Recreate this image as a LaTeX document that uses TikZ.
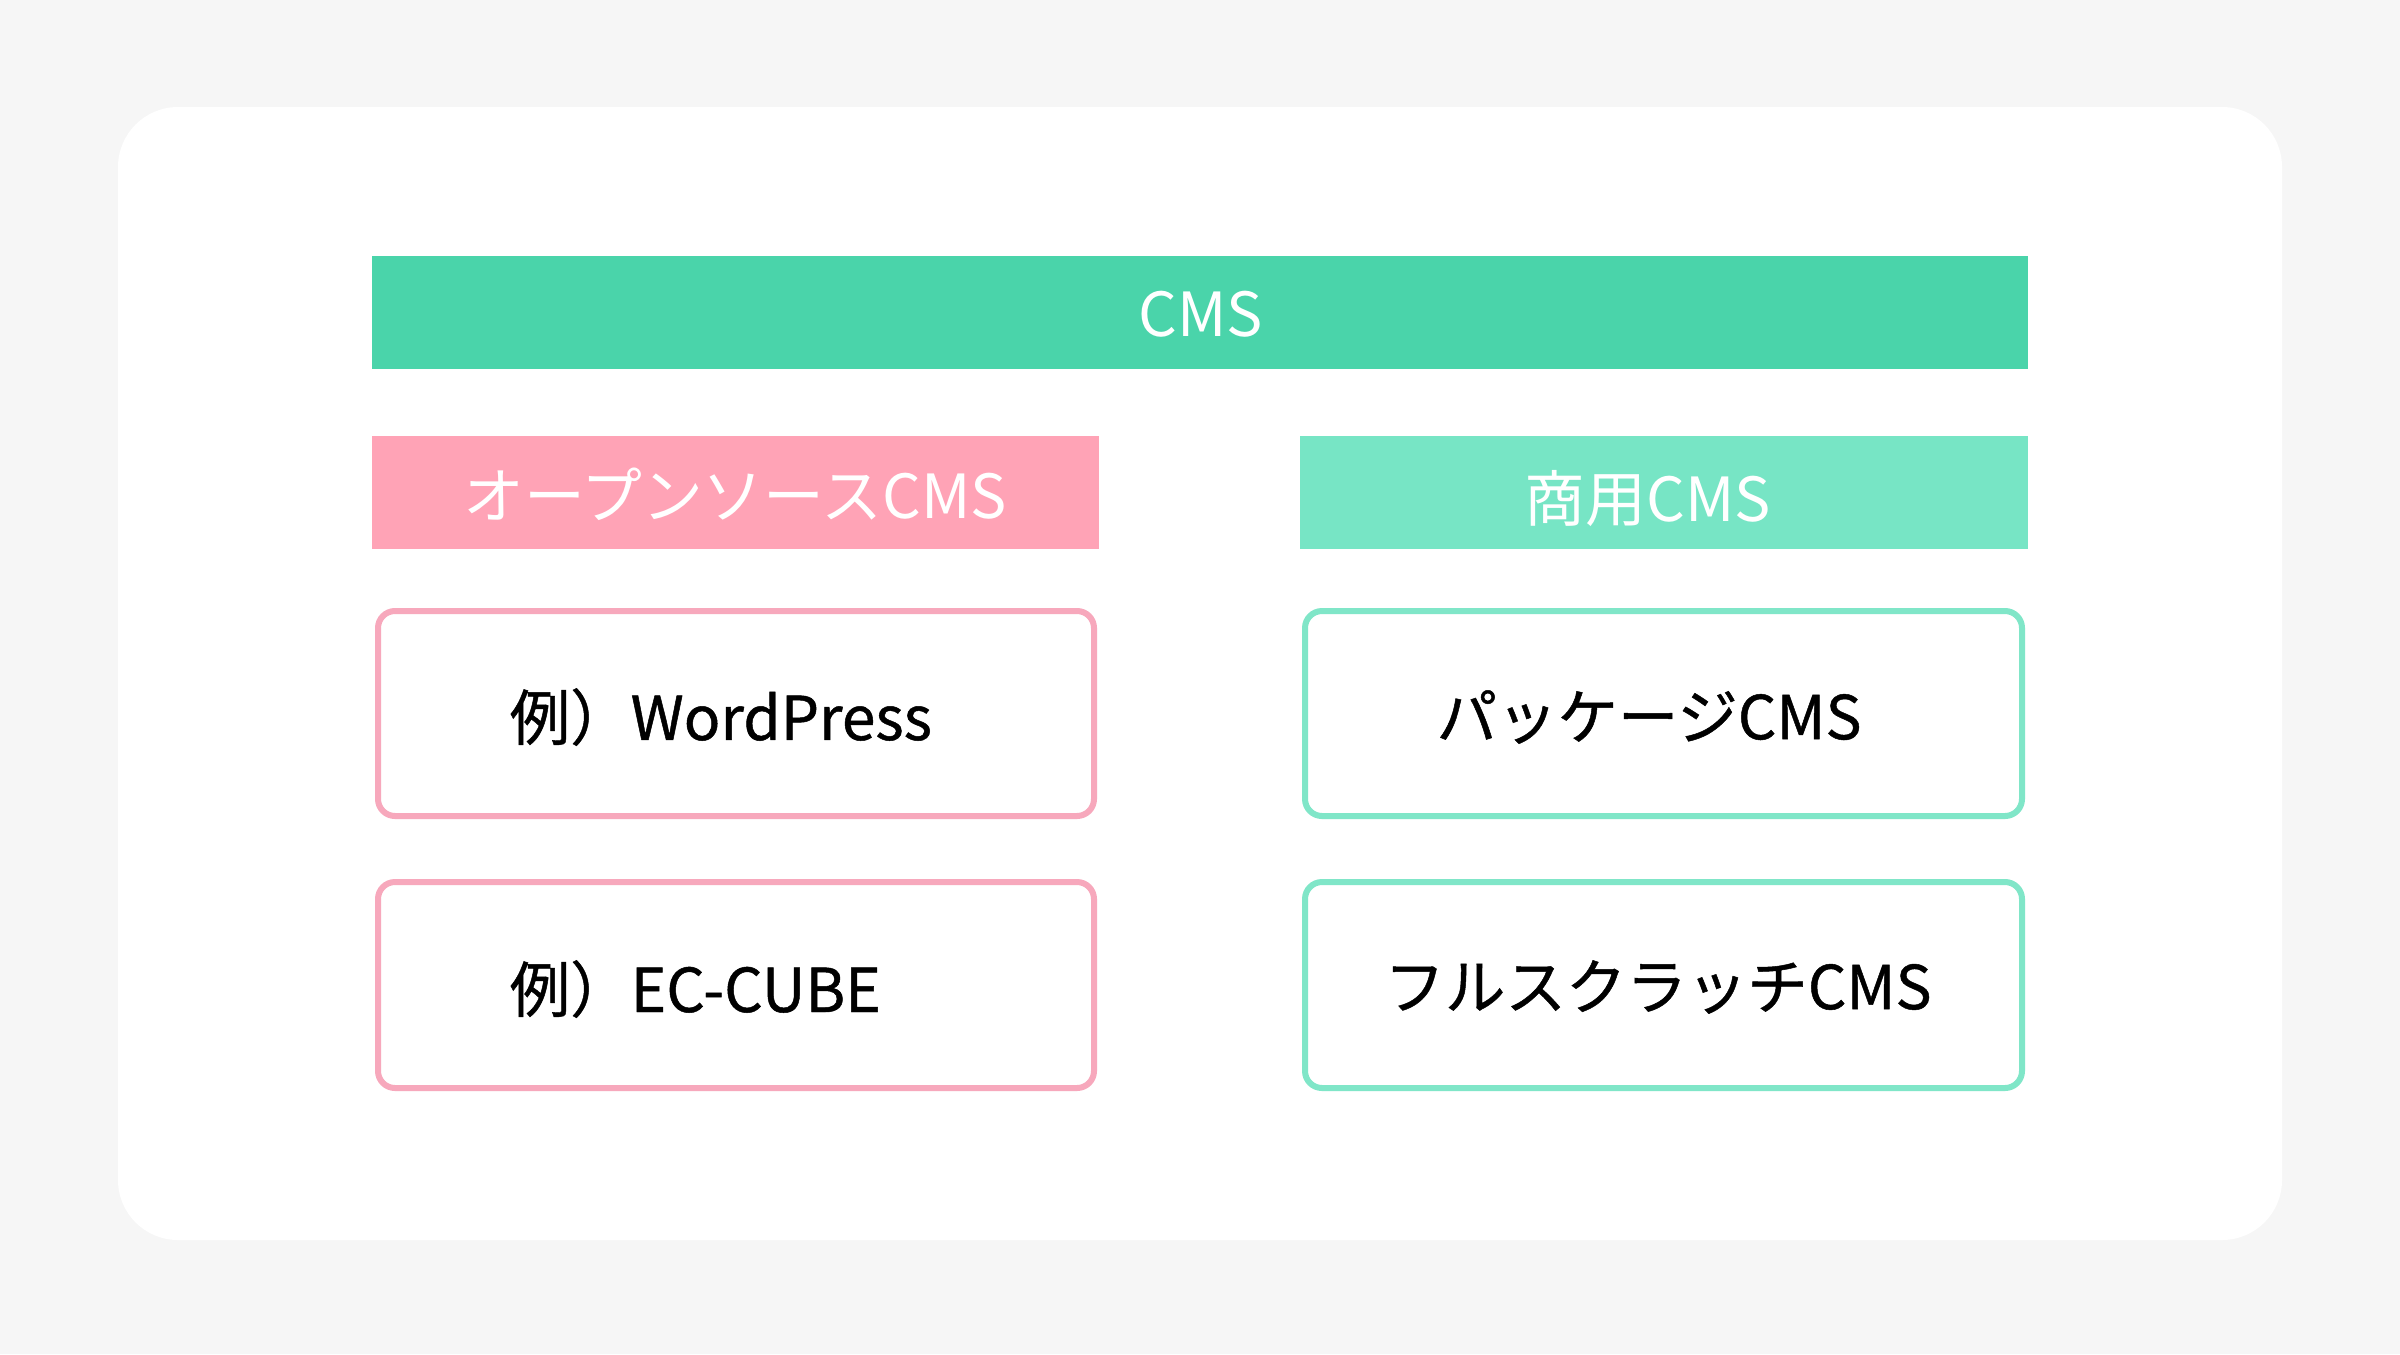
\documentclass[tikz,border=0pt]{standalone}
\usepackage{fontspec}
\newfontfamily\cjk{Noto Sans CJK JP}
\newfontfamily\cjkb[FakeBold=0.8]{Noto Sans CJK JP}
\definecolor{bgc}{HTML}{F6F6F6}
\definecolor{cmsg}{HTML}{4AD4AA}
\definecolor{pinkh}{HTML}{FFA3B6}
\definecolor{greenh}{HTML}{77E5C5}
\definecolor{pinkb}{HTML}{F7A8BC}
\definecolor{greenb}{HTML}{80E6C8}
\begin{document}
\begin{tikzpicture}[x=0.01cm,y=-0.01cm,
  hdr/.style={inner sep=0pt, outer sep=0pt, font=\cjk\fontsize{17.3pt}{21pt}\selectfont, text=white},
  bodytxt/.style={inner sep=0pt, font=\cjkb\fontsize{17.2pt}{21pt}\selectfont, text=black},
  pinkbox/.style={draw=pinkb, line width=0.06cm, fill=white, rounded corners=0.17cm},
  greenbox/.style={draw=greenb, line width=0.06cm, fill=white, rounded corners=0.17cm}]
\fill[bgc] (0,0) rectangle (2400,1354);
\useasboundingbox (0,0) rectangle (2400,1354);
\fill[white, rounded corners=0.6cm] (118,107) rectangle (2282,1240);
% headers
\fill[cmsg] (372,256) rectangle (2028,369);
\fill[pinkh] (372,436) rectangle (1099,549);
\fill[greenh] (1300,436) rectangle (2028,549);
\node[hdr] (cms) at (1201,314) {CMS};
\node[hdr] (oss) at (735,494) {オープンソースCMS};
\node[hdr] (com) at (1648,499) {商用CMS};
% boxes
\draw[pinkbox] (378,611) rectangle (1094,816);
\draw[pinkbox] (378,882) rectangle (1094,1088);
\draw[greenbox] (1305,611) rectangle (2022,816);
\draw[greenbox] (1305,882) rectangle (2022,1088);
\node[bodytxt, anchor=west] (wp) at (509,717) {例）WordPress};
\node[bodytxt, anchor=west] (ec) at (509,989) {例）EC-CUBE};
\node[bodytxt] (pkg) at (1649,717) {パッケージCMS};
\node[bodytxt] (full) at (1658,987) {フルスクラッチCMS};
\end{tikzpicture}
\end{document}
